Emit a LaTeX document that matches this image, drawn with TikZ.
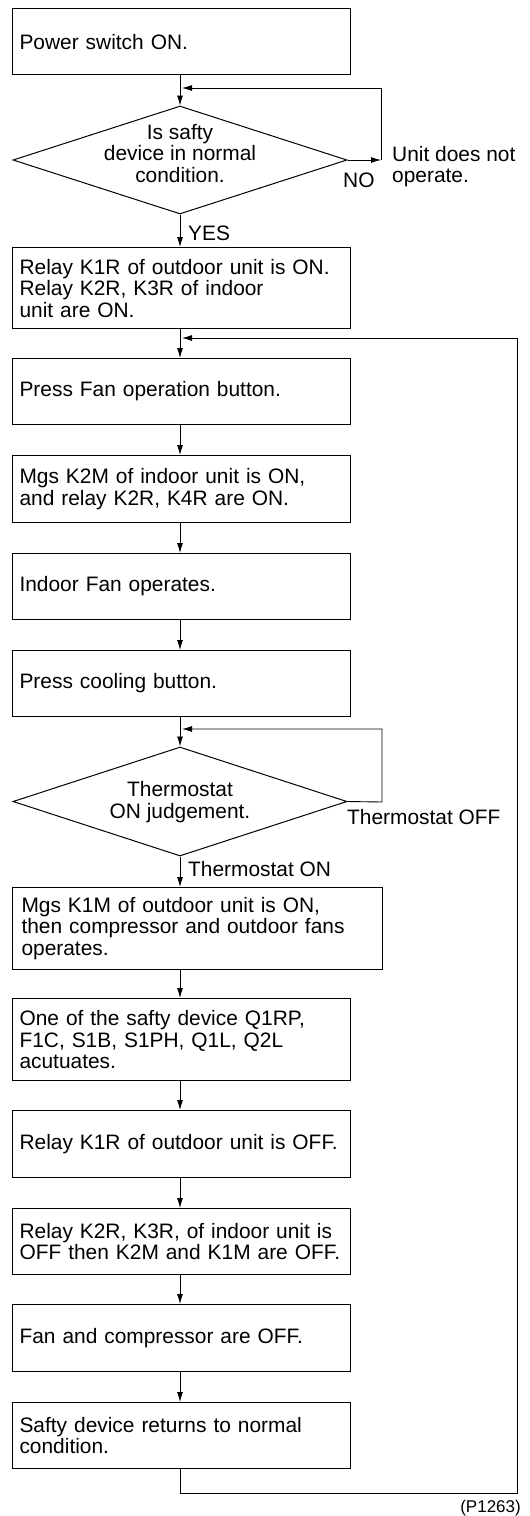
\documentclass[tikz,border=0pt]{standalone}
\usepackage{fontspec}
\setmainfont{Liberation Sans}
\usepackage{tikz}
\usetikzlibrary{arrows.meta, shapes.geometric}

\begin{document}
\begin{tikzpicture}[x=1pt, y=-1pt,
    stepbox/.style={draw, line width=1.1pt, anchor=north west, minimum width=338pt,
      minimum height=66pt, text width=324pt, inner xsep=7pt, inner ysep=0pt,
      align=left, font=\fontsize{20.9}{21.5}\selectfont},
    widebox/.style={stepbox, minimum width=370pt, text width=352pt, inner xsep=9pt},
    decision/.style={draw, line width=1pt, diamond, minimum width=334pt,
      minimum height=108pt, inner sep=0pt},
    dtext/.style={align=center, inner sep=0pt, font=\fontsize{20.9}{21.5}\selectfont},
    lbl/.style={inner sep=0pt, font=\fontsize{20.9}{21.5}\selectfont},
    arr/.style={line width=0.9pt, -{Latex[length=10pt, width=6pt]}}]
  \useasboundingbox (0,0) rectangle (530,1516);
  \coordinate (spine) at (180,0);
  % steps
  \node[stepbox] (pwr) at (12,8) {Power switch ON.};
  \node[decision] (safety) at (180,160) {};
  \node[dtext] (safetytxt) at (180,153.5) {Is safty\\device in normal\\condition.};
  \node[stepbox, minimum height=81pt] (relayon) at (12,247)
    {Relay K1R of outdoor unit is ON.\\Relay K2R, K3R of indoor\\unit are ON.};
  \node[stepbox] (fanbtn) at (12,358) {Press Fan operation button.};
  \node[stepbox, minimum height=67pt] (k2m) at (12,455)
    {Mgs K2M of indoor unit is ON,\\and relay K2R, K4R are ON.};
  \node[stepbox] (fanrun) at (12,553) {Indoor Fan operates.};
  \node[stepbox] (coolbtn) at (12,650) {Press cooling button.};
  \node[decision, minimum height=109pt] (thermo) at (180,801.5) {};
  \node[dtext] (thermotxt) at (180,802) {Thermostat\\ON judgement.};
  \node[widebox, minimum height=82pt] (k1m) at (12,887)
    {Mgs K1M of outdoor unit is ON,\\then compressor and outdoor fans\\operates.};
  \node[stepbox, minimum height=82pt] (trip) at (12,998)
    {One of the safty device Q1RP,\\F1C, S1B, S1PH, Q1L, Q2L\\acutuates.};
  \node[stepbox, minimum height=67pt] (k1roff) at (12,1110) {Relay K1R of outdoor unit is OFF.};
  \node[stepbox] (k2roff) at (12,1208)
    {Relay K2R, K3R, of indoor unit is\\OFF then K2M and K1M are OFF.};
  \node[stepbox, minimum height=67pt] (alloff) at (12,1304) {Fan and compressor are OFF.};
  \node[stepbox] (reset) at (12,1402) {Safty device returns to normal\\condition.};
  % straight flow
  \foreach \a/\b in {pwr/safety, safety/relayon, relayon/fanbtn, fanbtn/k2m, k2m/fanrun,
      fanrun/coolbtn, coolbtn/thermo, thermo/k1m, k1m/trip, trip/k1roff,
      k1roff/k2roff, k2roff/alloff, alloff/reset}
    \draw[arr] (\a.south -| spine) -- (\b.north -| spine);
  % loops
  \coordinate (noturn) at (381,160);
  \coordinate (noback) at (182,88);
  \draw[arr] (safety.east) -- (noturn);
  \draw[arr] (noturn) |- (noback);
  \coordinate (offturn) at (382,802);
  \coordinate (offback) at (182,729);
  \draw[arr] (thermo.east) -- (offturn) |- (offback);
  \coordinate (retbottom) at (517,1493);
  \coordinate (retback) at (182,338);
  \draw[arr] (reset.south -| spine) |- (retbottom) |- (retback);
  % labels
  \node[lbl, anchor=west] (no) at (343,180) {NO};
  \node[lbl, anchor=north west, align=left] (stop) at (392,146) {Unit does not\\operate.};
  \node[lbl, anchor=west] (yes) at (188,233) {YES};
  \node[lbl, anchor=west] (toff) at (347,817) {Thermostat OFF};
  \node[lbl, anchor=west] (ton) at (188,869) {Thermostat ON};
  \node[lbl, anchor=east, font=\fontsize{17}{18}\selectfont] (fig) at (521,1508) {(P1263)};
\end{tikzpicture}
\end{document}
